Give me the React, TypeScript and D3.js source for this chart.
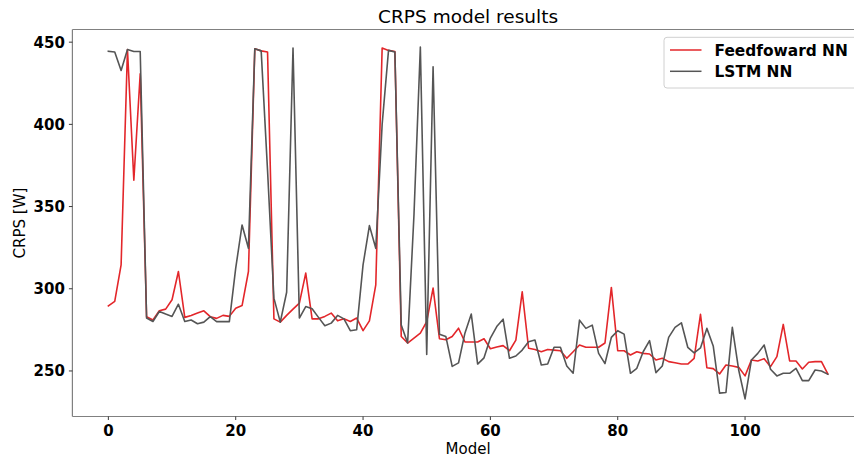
import React from "react";
import * as d3 from "d3";

const models: number[] = Array.from({ length: 114 }, (_, i) => i);

const feedforward: number[] = [
  289.6, 292.3, 314.5, 445.5, 366.0, 430.8, 283.0, 281.0, 286.6, 287.6,
  293.3, 310.5, 282.6, 283.8, 285.2, 286.6, 283.0, 282.0, 283.8, 283.2,
  288.2, 289.8, 310.5, 446.0, 444.7, 444.0, 281.7, 279.7, 283.8, 287.6,
  291.3, 309.5, 281.7, 281.7, 283.2, 285.2, 280.5, 281.7, 280.1, 282.2,
  274.5, 280.5, 302.4, 446.4, 445.0, 444.3, 271.0, 267.0, 270.0, 273.0,
  280.0, 300.4, 269.6, 269.0, 271.0, 276.0, 267.6, 267.6, 267.6, 269.6,
  263.5, 264.6, 265.4, 262.3, 268.8, 298.1, 263.8, 263.1, 261.7, 263.1,
  262.7, 262.3, 257.7, 261.7, 265.8, 264.4, 264.4, 264.4, 267.0, 300.8,
  262.3, 262.3, 259.7, 261.7, 260.7, 260.3, 256.7, 257.7, 255.7, 255.0,
  254.2, 254.2, 257.7, 284.5, 252.0, 251.4, 248.2, 253.6, 253.0, 252.2,
  247.0, 256.7, 256.1, 257.5, 252.6, 258.7, 278.3, 256.1, 256.1, 251.2,
  255.3, 255.7, 255.7, 248.2,
];

const lstm: number[] = [
  444.5, 444.0, 432.8, 445.5, 444.3, 444.3, 282.2, 280.1, 286.2, 284.6,
  283.2, 290.6, 280.1, 281.0, 278.7, 279.7, 283.0, 280.0, 280.0, 280.0,
  312.5, 338.8, 324.6, 446.0, 444.7, 372.0, 294.3, 279.7, 297.9, 446.4,
  282.2, 289.2, 287.8, 282.6, 277.5, 279.1, 283.8, 281.7, 274.5, 275.1,
  314.5, 338.4, 324.6, 400.0, 445.0, 444.0, 278.0, 267.0, 345.0, 447.0,
  260.0, 435.0, 272.4, 271.0, 252.8, 254.9, 273.0, 284.6, 254.2, 258.0,
  270.0, 277.0, 281.5, 257.7, 259.1, 262.7, 267.8, 268.8, 253.6, 254.2,
  264.4, 264.4, 253.0, 248.6, 280.9, 275.9, 277.9, 260.7, 254.5, 270.4,
  274.5, 272.4, 248.6, 251.6, 261.7, 268.4, 249.0, 253.0, 270.4, 276.5,
  279.3, 264.4, 261.0, 264.0, 275.9, 265.2, 236.5, 236.9, 276.5, 250.6,
  233.0, 256.7, 260.7, 265.8, 251.0, 247.0, 248.6, 248.6, 251.6, 244.1,
  244.1, 250.6, 250.0, 248.0,
];

const xTicks: number[] = [0, 20, 40, 60, 80, 100];
const yTicks: number[] = [250, 300, 350, 400, 450];

const seriesNames: string[] = ["Feedfoward NN", "LSTM NN"];
const seriesColors: string[] = ["#e3262a", "#555555"];

const W = 854;
const H = 464;
const left = 72.4;
const right = 863.8;
const top = 29.5;
const bottom = 416.5;

export default function App() {
  const xMin = 0, xMax = models.length - 1;
  const xPad = (xMax - xMin) * 0.05;
  const x = d3.scaleLinear().domain([xMin - xPad, xMax + xPad]).range([left, right]);
  const all = feedforward.concat(lstm);
  const yLo = d3.min(all) as number;
  const yHi = d3.max(all) as number;
  const yPad = (yHi - yLo) * 0.05;
  const y = d3.scaleLinear().domain([yLo - yPad, yHi + yPad]).range([bottom, top]);

  const line = d3
    .line<number>()
    .x((_, i) => x(models[i]))
    .y((d) => y(d));

  const series = [feedforward, lstm];
  const font = "DejaVu Sans, sans-serif";
  const spine = "#808080";

  return (
    <svg
      width={W}
      height={H}
      style={{ position: "absolute", left: 0, top: 0, background: "#fff" }}
      fontFamily={font}
    >
      <defs>
        <clipPath id="plotclip">
          <rect x={left} y={top} width={right - left} height={bottom - top} />
        </clipPath>
      </defs>
      <rect x={0} y={0} width={W} height={H} fill="#fff" />
      <g clipPath="url(#plotclip)">
        {series.map((s, k) => (
          <path
            key={k}
            d={line(s) as string}
            fill="none"
            stroke={seriesColors[k]}
            strokeWidth={1.6}
            strokeLinejoin="round"
            strokeLinecap="square"
          />
        ))}
      </g>
      {/* spines */}
      <line x1={left} x2={left} y1={top} y2={bottom} stroke={spine} strokeWidth={1.2} />
      <line x1={left} x2={right} y1={bottom} y2={bottom} stroke={spine} strokeWidth={1.2} />
      <line x1={left} x2={right} y1={top} y2={top} stroke={spine} strokeWidth={1.2} />
      <line x1={right} x2={right} y1={top} y2={bottom} stroke={spine} strokeWidth={1.2} />
      {/* x ticks */}
      {xTicks.map((t) => (
        <g key={"x" + t}>
          <line x1={x(t)} x2={x(t)} y1={bottom} y2={bottom + 3.5} stroke="#222" strokeWidth={0.9} />
          <text
            x={x(t)}
            y={436}
            textAnchor="middle"
            fontSize={15}
            fontWeight="bold"
            fill="#000"
          >
            {t}
          </text>
        </g>
      ))}
      {/* y ticks */}
      {yTicks.map((t) => (
        <g key={"y" + t}>
          <line x1={left - 3.5} x2={left} y1={y(t)} y2={y(t)} stroke="#222" strokeWidth={0.9} />
          <text
            x={left - 7.5}
            y={y(t)}
            dy="0.36em"
            textAnchor="end"
            fontSize={15}
            fontWeight="bold"
            fill="#000"
          >
            {t}
          </text>
        </g>
      ))}
      {/* labels */}
      <text x={(left + right) / 2} y={454} textAnchor="middle" fontSize={15} fill="#000">
        Model
      </text>
      <text
        transform={`translate(24.5, ${(top + bottom) / 2}) rotate(-90)`}
        textAnchor="middle"
        fontSize={15}
        fill="#000"
      >
        CRPS [W]
      </text>
      <text x={(left + right) / 2} y={23} textAnchor="middle" fontSize={18.5} fill="#000">
        CRPS model results
      </text>
      {/* legend */}
      <rect
        x={664}
        y={37.3}
        width={195}
        height={50.7}
        rx={3}
        fill="#fff"
        fillOpacity={0.8}
        stroke="#d0d0d0"
        strokeWidth={1}
      />
      {seriesNames.map((n, k) => (
        <g key={n}>
          <line
            x1={670}
            x2={701.5}
            y1={50 + k * 21.3}
            y2={50 + k * 21.3}
            stroke={seriesColors[k]}
            strokeWidth={1.5}
          />
          <text
            x={714.5}
            y={50 + k * 21.3}
            dy="0.36em"
            fontSize={15.4}
            fontWeight="bold"
            fill="#000"
          >
            {n}
          </text>
        </g>
      ))}
    </svg>
  );
}
